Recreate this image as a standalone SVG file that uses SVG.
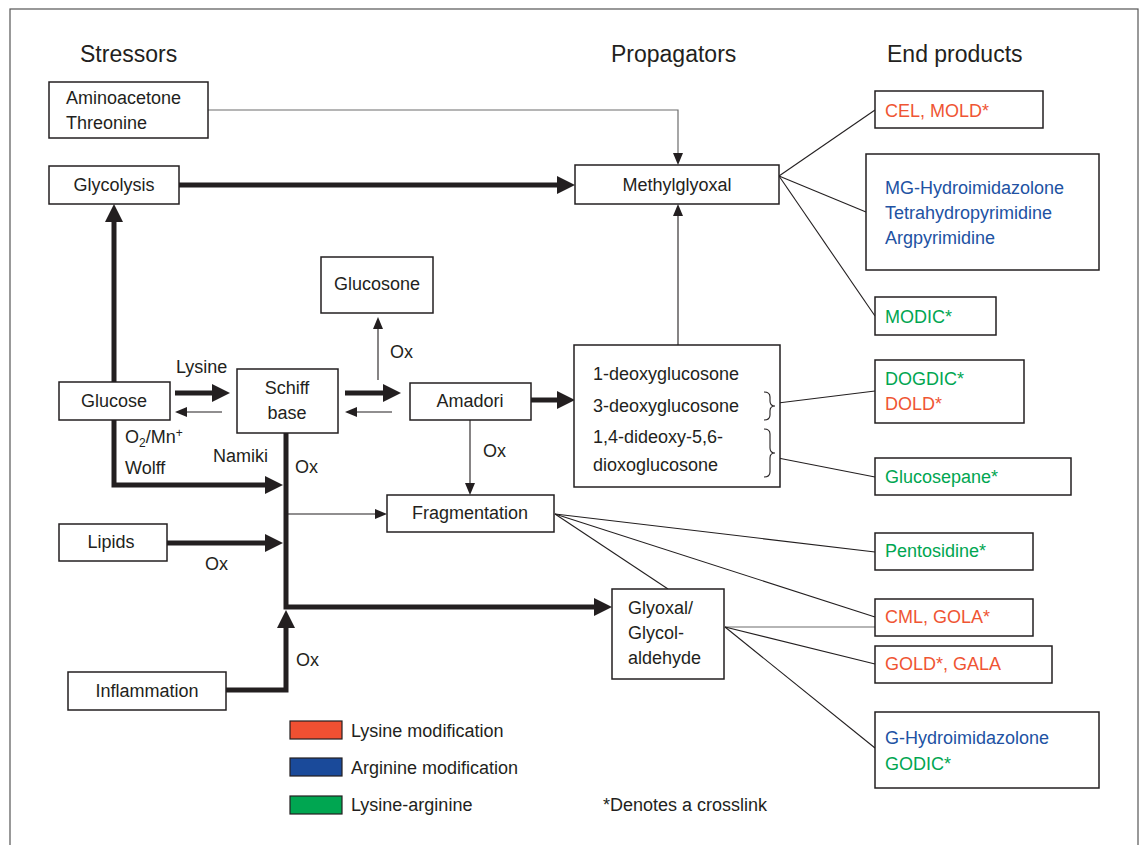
<svg xmlns="http://www.w3.org/2000/svg" width="1144" height="845" viewBox="0 0 1144 845">
<defs>
<style>
text{font-family:"Liberation Sans",Arial,sans-serif;font-size:18px;fill:#231f20}
.title{font-size:23px}
.box{fill:#fff;stroke:#231f20;stroke-width:1.5}
.thick{fill:none;stroke:#231f20;stroke-width:5}
.thin{fill:none;stroke:#231f20;stroke-width:1.1}
.gray{fill:none;stroke:#6d6d6d;stroke-width:1.2}
.c{text-anchor:middle}
.red{fill:#ef5533}
.blue{fill:#2152a3}
.green{fill:#00a651}
</style>
<marker id="ah" markerUnits="userSpaceOnUse" markerWidth="18" markerHeight="18" refX="4" refY="9" orient="auto"><path d="M0,0 L18,9 L0,18 z" fill="#231f20"/></marker>
<marker id="at" markerUnits="userSpaceOnUse" markerWidth="12" markerHeight="10" refX="2" refY="5" orient="auto"><path d="M0,0 L12,5 L0,10 z" fill="#231f20"/></marker>
</defs>
<rect x="10" y="9" width="1128" height="900" fill="#fff" stroke="#555" stroke-width="1.2"/>

<text class="title" x="80" y="62">Stressors</text>
<text class="title" x="611" y="62">Propagators</text>
<text class="title" x="887" y="62">End products</text>

<g id="connectors">
<polyline class="gray" points="208,110 678,110 678,155" marker-end="url(#at)"/>
<line class="thick" x1="179" y1="185" x2="561" y2="185" marker-end="url(#ah)"/>
<line class="thin" x1="678" y1="345" x2="678" y2="214" marker-end="url(#at)"/>
<line class="thick" x1="114" y1="382" x2="114" y2="218" marker-end="url(#ah)"/>
<line class="thick" x1="175" y1="393" x2="216" y2="393" marker-end="url(#ah)"/>
<line class="thin" x1="222" y1="412" x2="185" y2="412" marker-end="url(#at)"/>
<polyline class="thick" points="114,420 114,485 269,485" marker-end="url(#ah)"/>
<polyline class="thick" points="286,433 286,607 598,607" marker-end="url(#ah)"/>
<line class="thin" x1="286" y1="514" x2="377" y2="514" marker-end="url(#at)"/>
<line class="thick" x1="167" y1="543" x2="269" y2="543" marker-end="url(#ah)"/>
<polyline class="thick" points="226,690 286,690 286,624" marker-end="url(#ah)"/>
<line class="thick" x1="345" y1="393" x2="387" y2="393" marker-end="url(#ah)"/>
<line class="thin" x1="392" y1="412" x2="355" y2="412" marker-end="url(#at)"/>
<line class="thin" x1="378" y1="380" x2="378" y2="327" marker-end="url(#at)"/>
<line class="thick" x1="531" y1="400" x2="561" y2="400" marker-end="url(#ah)"/>
<line class="thin" x1="470" y1="420" x2="470" y2="485" marker-end="url(#at)"/>
<line class="thin" x1="779" y1="176" x2="875" y2="110"/>
<line class="thin" x1="779" y1="176" x2="866" y2="212"/>
<line class="thin" x1="779" y1="176" x2="875" y2="316"/>
<line class="thin" x1="778" y1="403" x2="875" y2="391"/>
<line class="thin" x1="778" y1="458" x2="875" y2="477"/>
<line class="thin" x1="555" y1="514" x2="875" y2="552"/>
<line class="thin" x1="555" y1="514" x2="875" y2="617"/>
<line class="thin" x1="555" y1="514" x2="668" y2="589"/>
<line class="gray" x1="725" y1="627" x2="875" y2="627"/>
<line class="thin" x1="725" y1="627" x2="875" y2="664"/>
<line class="thin" x1="725" y1="627" x2="875" y2="748"/>
</g>

<g id="edge-labels">
<text x="176" y="373">Lysine</text>
<text x="125" y="443">O<tspan font-size="12" dy="4">2</tspan><tspan dy="-4">/Mn</tspan><tspan font-size="12" dy="-6">+</tspan></text>
<text x="125" y="474">Wolff</text>
<text x="213" y="462">Namiki</text>
<text x="295" y="473">Ox</text>
<text x="390" y="358">Ox</text>
<text x="483" y="457">Ox</text>
<text x="205" y="570">Ox</text>
<text x="296" y="666">Ox</text>
</g>

<g id="aminoacetone"><rect class="box" x="49" y="82" width="159" height="56"/><text x="66" y="104">Aminoacetone</text><text x="66" y="129">Threonine</text></g>
<g id="glycolysis"><rect class="box" x="49" y="166" width="130" height="38"/><text class="c" x="114" y="191">Glycolysis</text></g>
<g id="methylglyoxal"><rect class="box" x="575" y="165" width="204" height="39"/><text class="c" x="677" y="191">Methylglyoxal</text></g>
<g id="glucose"><rect class="box" x="59" y="382" width="111" height="38"/><text class="c" x="114" y="407">Glucose</text></g>
<g id="schiff"><rect class="box" x="237" y="369" width="101" height="64"/><text class="c" x="287" y="394">Schiff</text><text class="c" x="287" y="419">base</text></g>
<g id="glucosone"><rect class="box" x="321" y="257" width="112" height="56"/><text class="c" x="377" y="290">Glucosone</text></g>
<g id="amadori"><rect class="box" x="410" y="383" width="121" height="37"/><text class="c" x="470" y="407">Amadori</text></g>
<g id="fragmentation"><rect class="box" x="387" y="495" width="167" height="37"/><text class="c" x="470" y="519">Fragmentation</text></g>
<g id="lipids"><rect class="box" x="59" y="524" width="108" height="37"/><text class="c" x="111" y="548">Lipids</text></g>
<g id="inflammation"><rect class="box" x="68" y="672" width="158" height="38"/><text class="c" x="147" y="697">Inflammation</text></g>
<g id="deoxy"><rect class="box" x="574" y="345" width="206" height="142"/>
<text x="593" y="380">1-deoxyglucosone</text>
<text x="593" y="412">3-deoxyglucosone</text>
<text x="593" y="443">1,4-dideoxy-5,6-</text>
<text x="593" y="471">dioxoglucosone</text>
<path class="thin" d="M764,392 q6,0 6,5 v4 q0,5 5,5 q-5,0 -5,5 v4 q0,5 -6,5"/>
<path class="thin" d="M764,429 q6,0 6,5 v14 q0,5 5,5 q-5,0 -5,5 v14 q0,5 -6,5"/>
</g>
<g id="glyoxal"><rect class="box" x="612" y="589" width="112" height="90"/><text x="628" y="614">Glyoxal/</text><text x="628" y="639">Glycol-</text><text x="628" y="664">aldehyde</text></g>

<g id="cel"><rect class="box" x="875" y="91" width="168" height="37"/><text class="red" x="885" y="117">CEL, MOLD*</text></g>
<g id="mg"><rect class="box" x="866" y="154" width="233" height="116"/><text class="blue" x="885" y="194">MG-Hydroimidazolone</text><text class="blue" x="885" y="219">Tetrahydropyrimidine</text><text class="blue" x="885" y="244">Argpyrimidine</text></g>
<g id="modic"><rect class="box" x="875" y="297" width="121" height="38"/><text class="green" x="885" y="323">MODIC*</text></g>
<g id="dogdic"><rect class="box" x="875" y="360" width="149" height="63"/><text class="green" x="885" y="385">DOGDIC*</text><text class="red" x="885" y="410">DOLD*</text></g>
<g id="glucosepane"><rect class="box" x="875" y="458" width="196" height="37"/><text class="green" x="885" y="483">Glucosepane*</text></g>
<g id="pentosidine"><rect class="box" x="875" y="533" width="158" height="37"/><text class="green" x="885" y="557">Pentosidine*</text></g>
<g id="cml"><rect class="box" x="875" y="599" width="158" height="37"/><text class="red" x="885" y="623">CML, GOLA*</text></g>
<g id="gold"><rect class="box" x="875" y="646" width="177" height="37"/><text class="red" x="885" y="670">GOLD*, GALA</text></g>
<g id="ghydro"><rect class="box" x="875" y="712" width="224" height="76"/><text class="blue" x="885" y="744">G-Hydroimidazolone</text><text class="green" x="885" y="770">GODIC*</text></g>

<g id="legend">
<rect x="290" y="721" width="52" height="18" fill="#f05032" stroke="#231f20" stroke-width="1.2"/>
<rect x="290" y="758" width="52" height="18" fill="#1a4a9a" stroke="#231f20" stroke-width="1.2"/>
<rect x="290" y="796" width="52" height="18" fill="#00a651" stroke="#231f20" stroke-width="1.2"/>
<text x="351" y="737">Lysine modification</text>
<text x="351" y="774">Arginine modification</text>
<text x="351" y="811">Lysine-arginine</text>
<text x="603" y="811">*Denotes a crosslink</text>
</g>
</svg>
